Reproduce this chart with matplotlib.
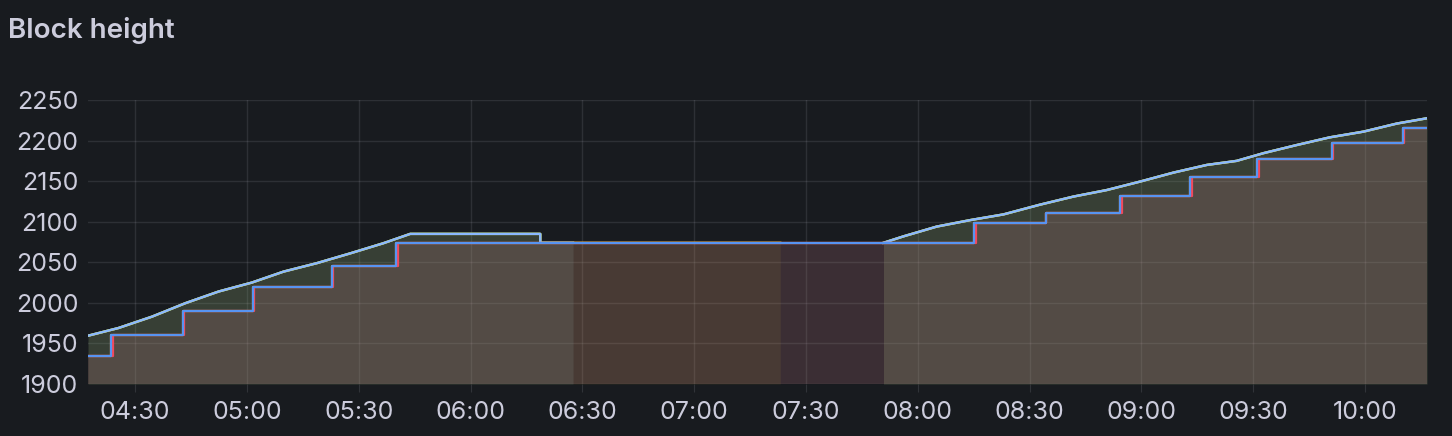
import numpy as np
import pandas as pd
import matplotlib
matplotlib.use("Agg")
import matplotlib.pyplot as plt
import matplotlib.dates as mdates

DAY = "2024-01-01 "

# chain head (rising), first session then after the pause
head_times_a = ["04:17:20", "04:25:30", "04:34:30", "04:43:24", "04:52:24", "05:01:18",
                "05:09:48", "05:18:48", "05:27:42", "05:36:36", "05:43:48", "06:18:42",
                "06:18:42", "06:27:30"]
head_vals_a = [1959.5, 1969, 1983, 1999.5, 2014, 2025, 2038.5, 2049, 2061, 2073.5,
               2085, 2085, 2074, 2074]
head_times_b = ["07:50:48", "07:56:12", "08:05:06", "08:14:06", "08:23:00", "08:32:48",
                "08:41:48", "08:50:42", "08:59:42", "09:08:36", "09:17:36", "09:25:36",
                "09:32:48", "09:41:42", "09:50:36", "09:59:36", "10:08:36", "10:16:40"]
head_vals_b = [2074, 2082, 2094, 2102, 2109, 2121, 2131, 2139, 2149.5, 2160.5, 2170,
               2175, 2184.5, 2194.5, 2204, 2211, 2221, 2227.5]
# one node kept reporting during the pause
yellow_hold_times = ["06:27:30", "07:23:06"]
yellow_hold_vals = [2074, 2074]

# finalized block (steps)
fin_times = ["04:17:20", "04:23:36", "04:42:54", "05:01:42", "05:22:54", "05:40:00",
             "08:15:12", "08:34:24", "08:54:12", "09:13:06", "09:31:06", "09:51:06",
             "10:10:06", "10:16:40"]
fin_vals = [1935, 1961, 1990, 2019, 2046, 2074, 2098, 2111, 2132, 2155, 2177, 2197,
            2215, 2215]
fin_red_times = ["04:17:20", "04:24:06", "04:43:00", "05:01:48", "05:23:00", "05:40:30",
                 "08:15:42", "08:34:30", "08:54:42", "09:13:36", "09:31:36", "09:51:30",
                 "10:10:36", "10:16:40"]

y_ticks = [1900, 1950, 2000, 2050, 2100, 2150, 2200, 2250]
x_ticks = ["04:30", "05:00", "05:30", "06:00", "06:30", "07:00", "07:30",
           "08:00", "08:30", "09:00", "09:30", "10:00"]


def ts(lst):
    return pd.to_datetime([DAY + t for t in lst])


BG = "#181b1f"
TXT = "#ccccdc"
GREEN, YELLOW, LBLUE = "#73bf69", "#fade2a", "#8ab8ff"
ORANGE, RED, BLUE = "#ff9830", "#f2495c", "#5794f2"
FA = 0.078

plt.rcParams["font.family"] = ["Inter", "DejaVu Sans"]

fig = plt.figure(figsize=(14.52, 4.36), dpi=100, facecolor=BG)
ax = fig.add_axes([88 / 1452, 52 / 436, 1339 / 1452, 284 / 436], facecolor=BG)

ta, tb = ts(head_times_a), ts(head_times_b)
ty = ts(head_times_a + yellow_hold_times)
vy = head_vals_a + yellow_hold_vals
tf, tr = ts(fin_times), ts(fin_red_times)

# fills (all series fill to the axis bottom)
for t, v, c in [(ta, head_vals_a, GREEN), (tb, head_vals_b, GREEN),
                (ty, vy, YELLOW), (tb, head_vals_b, YELLOW),
                (ta, head_vals_a, LBLUE), (tb, head_vals_b, LBLUE)]:
    ax.fill_between(t, v, 1900, color=c, alpha=FA, lw=0)
for t, c in [(tf, ORANGE), (tr, RED), (tf, BLUE)]:
    ax.fill_between(t, fin_vals, 1900, step="post", color=c, alpha=FA, lw=0)

# lines
for t, v, c in [(ta, head_vals_a, GREEN), (tb, head_vals_b, GREEN),
                (ty, vy, YELLOW), (tb, head_vals_b, YELLOW),
                (ta, head_vals_a, LBLUE), (tb, head_vals_b, LBLUE)]:
    ax.plot(t, v, color=c, lw=1.7)
ax.step(tf, fin_vals, where="post", color=ORANGE, lw=1.6)
ax.step(tr, fin_vals, where="post", color=RED, lw=1.6)
ax.step(tf, fin_vals, where="post", color=BLUE, lw=1.6)

ax.set_xlim(pd.Timestamp(DAY + "04:17:20"), pd.Timestamp(DAY + "10:16:40"))
ax.set_ylim(1900, 2250)
ax.set_yticks(y_ticks)
ax.set_xticks(ts(x_ticks))
ax.xaxis.set_major_formatter(mdates.DateFormatter("%H:%M"))

for s in ax.spines.values():
    s.set_visible(False)
ax.grid(True, color=TXT, alpha=0.12, lw=1)
ax.set_axisbelow(True)
ax.tick_params(axis="x", length=6, color="#303338", colors=TXT, labelsize=18, pad=6)
ax.tick_params(axis="y", length=0, colors=TXT, labelsize=18, pad=7)
for lab in ax.get_xticklabels() + ax.get_yticklabels():
    lab.set_color(TXT)

fig.text(8 / 1452, 1 - 30 / 436, "Block height", color=TXT, fontsize=20,
         fontweight="semibold", va="center", ha="left")

fig.savefig("out.png", dpi=100, facecolor=BG)
